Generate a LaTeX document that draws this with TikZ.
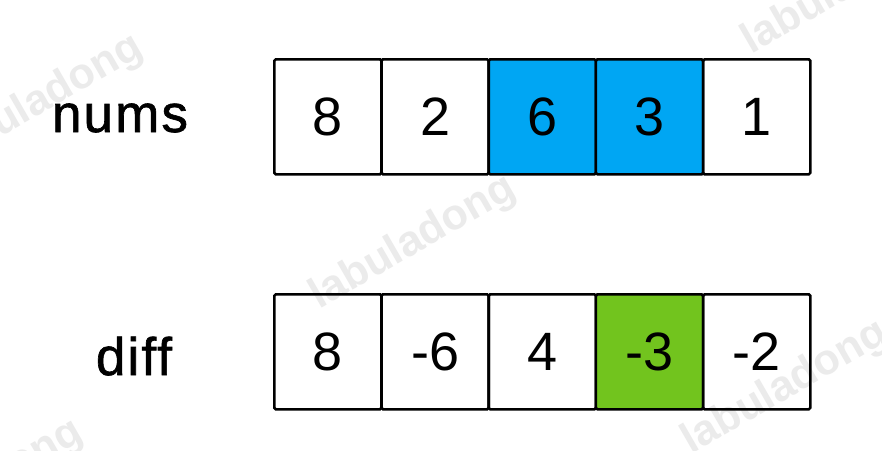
\documentclass[tikz,border=0pt]{standalone}
\usepackage{fontspec}
\setmainfont{Liberation Sans}
\newfontfamily\lblfont[FakeBold=1.2, LetterSpace=4]{Liberation Sans}
\begin{document}
\begin{tikzpicture}[x=1pt,y=-1pt,
  cell/.style={draw=black, line width=2.6pt, rounded corners=1.5pt, minimum width=107.2pt, minimum height=115pt, inner sep=0pt, anchor=north west, font=\fontsize{54}{54}\selectfont},
  lbl/.style={font=\lblfont\fontsize{53}{53}\selectfont, anchor=base},
  wm/.style={text=black!8, font=\fontsize{43}{43}\selectfont\bfseries, rotate=30}
]
\definecolor{hlblue}{RGB}{0,166,243}
\definecolor{hlgreen}{RGB}{114,196,30}
\useasboundingbox (0,0) rectangle (882,450);
\fill[white] (0,0) rectangle (882,450);
% watermarks
\node[wm] (w1) at (40,102) {labuladong};
\node[wm] (w2) at (413,243) {labuladong};
\node[wm] (w3) at (785,388) {labuladong};
\node[wm] (w4) at (845,-12) {labuladong};
\node[wm] (w5) at (-20,487) {labuladong};
% labels
\node[lbl] (lnums) at (120,132) {nums};
\node[lbl] (ldiff) at (134,375) {diff};
% top row
\node[cell] (n0) at (273,58) {8};
\node[cell] (n1) at (380.2,58) {2};
\node[cell, fill=hlblue] (n2) at (487.4,58) {6};
\node[cell, fill=hlblue] (n3) at (594.6,58) {3};
\node[cell] (n4) at (701.8,58) {1};
% bottom row
\node[cell] (d0) at (273,293) {8};
\node[cell] (d1) at (380.2,293) {-6};
\node[cell] (d2) at (487.4,293) {4};
\node[cell, fill=hlgreen] (d3) at (594.6,293) {-3};
\node[cell] (d4) at (701.8,293) {-2};
\end{tikzpicture}
\end{document}
